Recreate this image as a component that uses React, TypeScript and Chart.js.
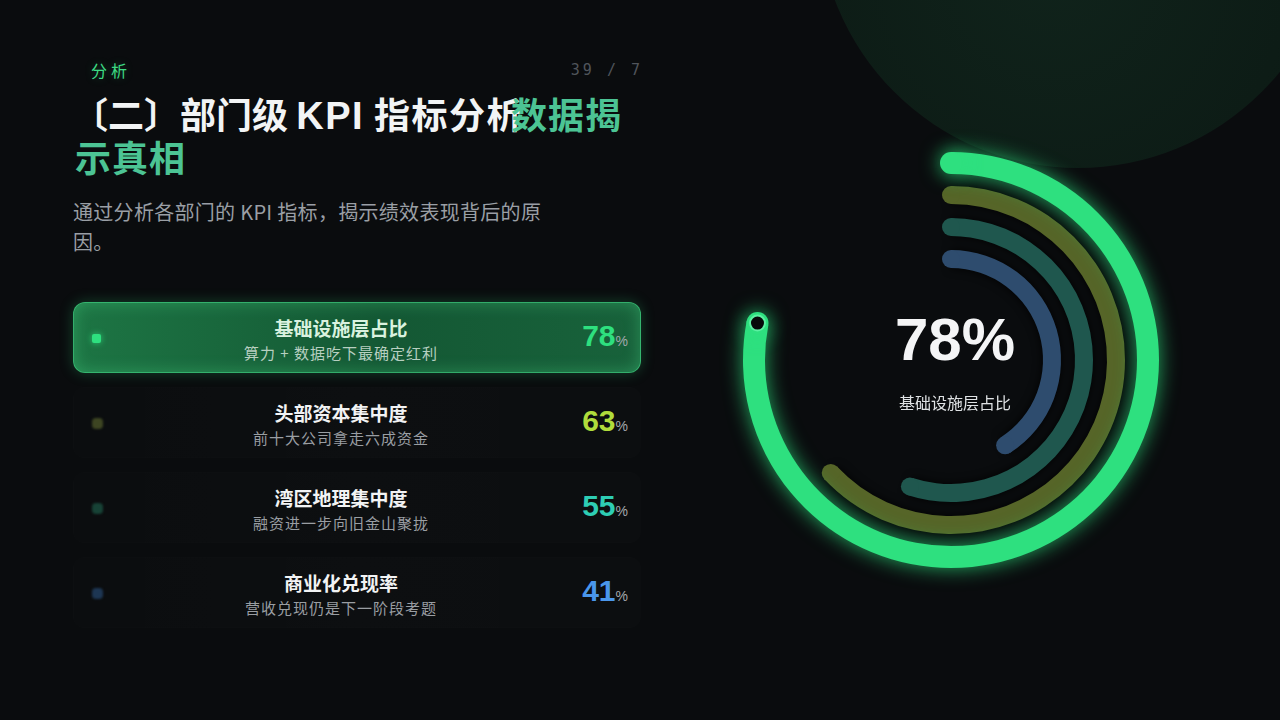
import React, { useEffect, useRef } from 'react';
import { Chart, registerables } from 'chart.js';

Chart.register(...registerables);

// ---- data ----
const categories = ['基础设施层占比', '头部资本集中度', '湾区地理集中度', '商业化兑现率'];
const notes = ['算力 + 数据吃下最确定红利', '前十大公司拿走六成资金', '融资进一步向旧金山聚拢', '营收兑现仍是下一阶段考题'];
const values = [78, 63, 55, 41];
const ringColors = ['#2ee07f', '#566528', '#1f574e', '#2e4c6e'];
const valueColors = ['#2ee07f', '#b0dc3c', '#2ecdb4', '#4a96eb'];
const dotColors = ['#2ee07f', '#3d4522', '#174236', '#1d3653'];
const ringWeights = [22, 18, 18, 18];
const gapWeights = [12, 14, 14];

const CJK = '"Noto Sans CJK SC", "Noto Sans", sans-serif';
const NUM = '"Liberation Sans", Arial, sans-serif';

const ringFx = {
  id: 'ringFx',
  beforeDatasetDraw(chart: any, args: any) {
    const ds = chart.data.datasets[args.index];
    const ctx = chart.ctx;
    ctx.save();
    if (ds.kind === 'value') {
      if (ds.ringIndex === 0) {
        ctx.shadowColor = 'rgba(46,224,127,0.75)';
        ctx.shadowBlur = 20;
      } else {
        ctx.shadowColor = 'rgba(0,0,0,0.9)';
        ctx.shadowBlur = 10;
      }
    }
  },
  afterDatasetDraw(chart: any, args: any) {
    const ds = chart.data.datasets[args.index];
    const ctx = chart.ctx;
    if (ds.kind === 'value') {
      const arc = args.meta.data[0];
      const p = arc.getProps(['x', 'y', 'startAngle', 'endAngle', 'innerRadius', 'outerRadius'], true);
      const r = (p.innerRadius + p.outerRadius) / 2;
      const h = (p.outerRadius - p.innerRadius) / 2;
      if (ds.ringIndex !== 0) {
        ctx.shadowColor = 'rgba(0,0,0,0)';
        ctx.shadowBlur = 0;
      }
      ctx.fillStyle = ds.backgroundColor[0];
      for (const a of [p.startAngle, p.endAngle]) {
        ctx.beginPath();
        ctx.arc(p.x + r * Math.cos(a), p.y + r * Math.sin(a), h, 0, Math.PI * 2);
        ctx.fill();
      }
      if (ds.ringIndex === 0) {
        ctx.shadowColor = 'rgba(0,0,0,0)';
        ctx.shadowBlur = 0;
        const px = p.x + r * Math.cos(p.endAngle);
        const py = p.y + r * Math.sin(p.endAngle);
        ctx.beginPath();
        ctx.arc(px, py, 7.5, 0, Math.PI * 2);
        ctx.fillStyle = '#07090a';
        ctx.fill();
        ctx.lineWidth = 2;
        ctx.strokeStyle = '#5cf0a2';
        ctx.stroke();
      }
    }
    ctx.restore();
  },
};

function RingChart() {
  const ref = useRef<HTMLCanvasElement | null>(null);
  useEffect(() => {
    if (!ref.current) return;
    const datasets: any[] = [];
    values.forEach((v, i) => {
      datasets.push({
        label: categories[i],
        data: [v, 100 - v],
        backgroundColor: [ringColors[i], 'rgba(0,0,0,0)'],
        borderWidth: 0,
        weight: ringWeights[i],
        kind: 'value',
        ringIndex: i,
      });
      if (i < gapWeights.length) {
        datasets.push({
          label: 'gap',
          data: [100],
          backgroundColor: ['rgba(0,0,0,0)'],
          borderWidth: 0,
          weight: gapWeights[i],
          kind: 'gap',
        });
      }
    });
    const chart = new Chart(ref.current, {
      type: 'doughnut',
      data: { labels: ['值', '余'], datasets },
      options: {
        animation: false,
        responsive: false,
        devicePixelRatio: 1,
        events: [],
        cutout: 92,
        layout: { padding: 32 },
        plugins: { legend: { display: false }, tooltip: { enabled: false } },
      } as any,
      plugins: [ringFx],
    });
    return () => chart.destroy();
  }, []);
  return <canvas ref={ref} width={480} height={480} style={{ display: 'block' }} />;
}

export default function App() {
  const cardTops = [302, 387, 472, 557];
  const titleBase: any = { position: 'absolute', fontSize: 36, lineHeight: '43px', fontWeight: 700, whiteSpace: 'nowrap' };
  return (
    <div
      style={{
        position: 'fixed',
        left: 0,
        top: 0,
        width: 1280,
        height: 720,
        background: '#0a0c0e',
        overflow: 'hidden',
        fontFamily: CJK,
      }}
    >
      {/* decorative circle */}
      <div
        style={{
          position: 'absolute',
          left: 818,
          top: -352,
          width: 520,
          height: 520,
          borderRadius: '50%',
          background: 'radial-gradient(circle at 45% 62%, #10231b 0%, #0d1c16 55%, #0b1712 100%)',
        }}
      />

      {/* label */}
      <div
        style={{
          position: 'absolute',
          left: 91,
          top: 60,
          fontSize: 16,
          lineHeight: '20px',
          color: '#3ddc84',
          letterSpacing: 4,
          textShadow: '0 0 8px rgba(61,220,132,0.25)',
        }}
      >
        分析
      </div>
      <div
        style={{
          position: 'absolute',
          right: 1280 - 643,
          top: 60,
          fontSize: 15,
          lineHeight: '20px',
          color: '#50555b',
          letterSpacing: 3,
          fontFamily: '"DejaVu Sans Mono", monospace',
        }}
      >
        39 / 7
      </div>

      {/* title */}
      <div style={{ ...titleBase, left: 72, top: 92, color: '#f2f4f5' }}>
        <span>〔二〕部门级 </span>
        <span style={{ fontFamily: NUM, fontSize: 38, letterSpacing: 1.5 }}>KPI</span>
        <span style={{ fontFamily: NUM }}> </span>
        <span style={{ letterSpacing: 1.5 }}>指标分析</span>
      </div>
      <div style={{ ...titleBase, left: 511, top: 92, color: '#4cc494', letterSpacing: 1 }}>数据揭</div>
      <div style={{ ...titleBase, left: 75, top: 135, color: '#4cc494', letterSpacing: 1 }}>示真相</div>

      {/* subtitle */}
      <div style={{ position: 'absolute', left: 73, top: 197, fontSize: 20, lineHeight: '30px', color: '#9a9fa5', whiteSpace: 'nowrap', letterSpacing: 0.3 }}>
        通过分析各部门的 KPI 指标，揭示绩效表现背后的原
        <br />
        因。
      </div>

      {/* cards */}
      {categories.map((c, i) => {
        const active = i === 0;
        return (
          <div
            key={c}
            style={{
              position: 'absolute',
              left: 73,
              top: cardTops[i],
              width: 568,
              height: 71,
              boxSizing: 'border-box',
              borderRadius: 12,
              background: active
                ? 'linear-gradient(90deg, #1d7544 0%, #145834 55%, #18623b 100%)'
                : 'linear-gradient(90deg, rgba(255,255,255,0.006), rgba(255,255,255,0.016) 50%, rgba(255,255,255,0.01))',
              border: active ? '1px solid rgba(70,225,140,0.6)' : '1px solid rgba(255,255,255,0.008)',
              boxShadow: active ? '0 0 14px rgba(46,224,127,0.25), inset 0 0 16px rgba(90,255,160,0.28)' : 'none',
            }}
          >
            <div
              style={{
                position: 'absolute',
                left: 18,
                top: active ? 31 : 30,
                width: active ? 9 : 11,
                height: active ? 9 : 11,
                borderRadius: active ? 2 : 4,
                background: dotColors[i],
                filter: active ? 'none' : 'blur(1.2px)',
                boxShadow: active ? '0 0 6px rgba(46,224,127,0.8)' : 'none',
              }}
            />
            <div
              style={{
                position: 'absolute',
                left: 36,
                width: 462,
                top: 13,
                textAlign: 'center',
                fontSize: 19,
                lineHeight: '24px',
                fontWeight: 700,
                color: active ? '#d9f2df' : '#f2f3f4',
              }}
            >
              {c}
            </div>
            <div
              style={{
                position: 'absolute',
                left: 36,
                width: 462,
                top: 40,
                textAlign: 'center',
                fontSize: 15,
                lineHeight: '20px',
                letterSpacing: 1,
                color: active ? '#b7cfc0' : '#9a9ea3',
              }}
            >
              {notes[i]}
            </div>
            <div
              style={{
                position: 'absolute',
                right: 12,
                top: 15,
                lineHeight: '36px',
                whiteSpace: 'nowrap',
                fontFamily: NUM,
              }}
            >
              <span style={{ fontSize: 30, fontWeight: 700, color: valueColors[i] }}>{values[i]}</span>
              <span style={{ fontSize: 14, color: '#a3a8ad' }}>%</span>
            </div>
          </div>
        );
      })}

      {/* ring chart */}
      <div style={{ position: 'absolute', left: 711, top: 120, width: 480, height: 480 }}>
        <RingChart />
      </div>
      <div
        style={{
          position: 'absolute',
          left: 855,
          width: 200,
          top: 302,
          textAlign: 'center',
          fontFamily: NUM,
          fontWeight: 700,
          fontSize: 60,
          lineHeight: '76px',
          color: '#f4f5f6',
        }}
      >
        {values[0]}%
      </div>
      <div
        style={{
          position: 'absolute',
          left: 855,
          width: 200,
          top: 391,
          textAlign: 'center',
          fontSize: 16,
          lineHeight: '22px',
          color: '#dfe2e4',
        }}
      >
        {categories[0]}
      </div>
    </div>
  );
}
